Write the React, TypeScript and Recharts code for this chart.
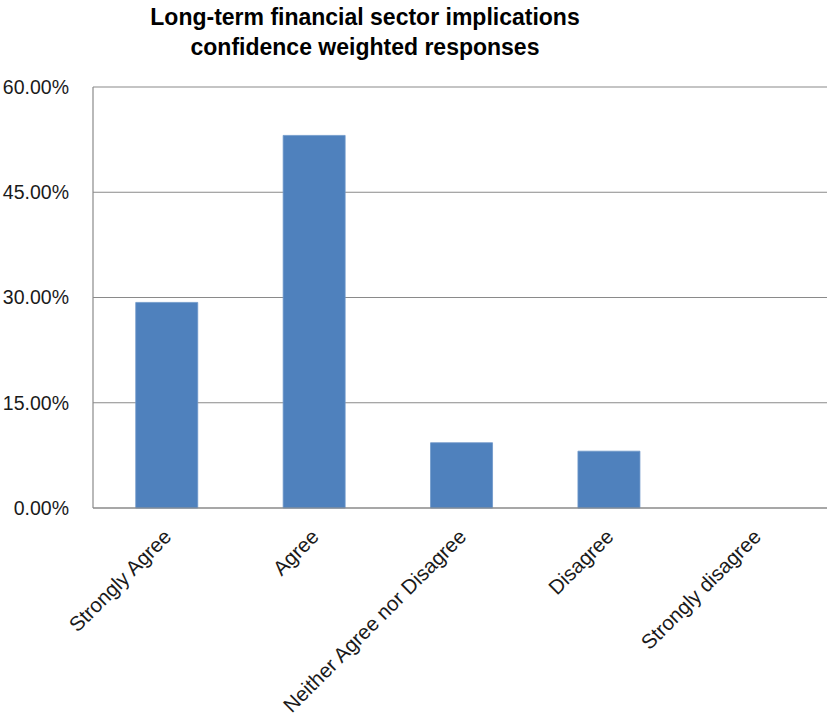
import React from "react";
import { BarChart, Bar, XAxis, YAxis, CartesianGrid } from "recharts";

const categories = [
  "Strongly Agree",
  "Agree",
  "Neither Agree nor Disagree",
  "Disagree",
  "Strongly disagree",
];
const values = [29.3, 53.1, 9.3, 8.1, 0];
const yTicks = [0, 15, 30, 45, 60];
const titleLines = [
  "Long-term financial sector implications",
  "confidence weighted responses",
];

const data = categories.map((c, i) => ({ name: c, value: values[i] }));

const FONT = "'Liberation Sans', Arial, sans-serif";

const XTick = (props: any) => {
  const { x, y, payload } = props;
  const ax = x + 6;
  const ay = y + 30;
  return (
    <text
      x={ax}
      y={ay}
      textAnchor="end"
      transform={`rotate(-45, ${ax}, ${ay})`}
      fontFamily={FONT}
      fontSize={20.5}
      fill="#1a1a1a"
    >
      {payload.value}
    </text>
  );
};

export default function App() {
  return (
    <div
      style={{
        position: "absolute",
        left: 0,
        top: 0,
        width: 827,
        height: 715,
        overflow: "hidden",
        background: "#fff",
      }}
    >
      <svg
        width={827}
        height={80}
        style={{ position: "absolute", left: 0, top: 0 }}
      >
        {titleLines.map((t, i) => (
          <text
            key={i}
            x={365}
            y={25 + i * 30}
            textAnchor="middle"
            fontFamily={FONT}
            fontWeight="bold"
            fontSize={23}
            fill="#000"
          >
            {t}
          </text>
        ))}
      </svg>
      <div style={{ position: "absolute", left: 0, top: 0 }}>
        <BarChart
          width={840}
          height={715}
          data={data}
          margin={{ top: 87, right: 10, bottom: 0, left: 0 }}
          barCategoryGap="29%"
        >
          <CartesianGrid
            vertical={false}
            stroke="#8a8a8a"
            strokeWidth={1.2}
          />
          <XAxis
            dataKey="name"
            height={207}
            interval={0}
            tickLine={false}
            tickSize={0}
            tickMargin={0}
            axisLine={{ stroke: "#8a8a8a", strokeWidth: 1.2 }}
            tick={<XTick />}
          />
          <YAxis
            width={93}
            domain={[0, 60]}
            ticks={yTicks}
            tickLine={false}
            tickSize={0}
            tickMargin={24}
            axisLine={{ stroke: "#8a8a8a", strokeWidth: 1.2 }}
            tickFormatter={(v: number) => `${v.toFixed(2)}%`}
            tick={{ fontFamily: FONT, fontSize: 19.5, fill: "#1a1a1a" }}
          />
          <Bar
            dataKey="value"
            fill="#4f81bd"
            stroke="#6d97c9"
            strokeWidth={0.8}
            isAnimationActive={false}
          />
        </BarChart>
      </div>
    </div>
  );
}
